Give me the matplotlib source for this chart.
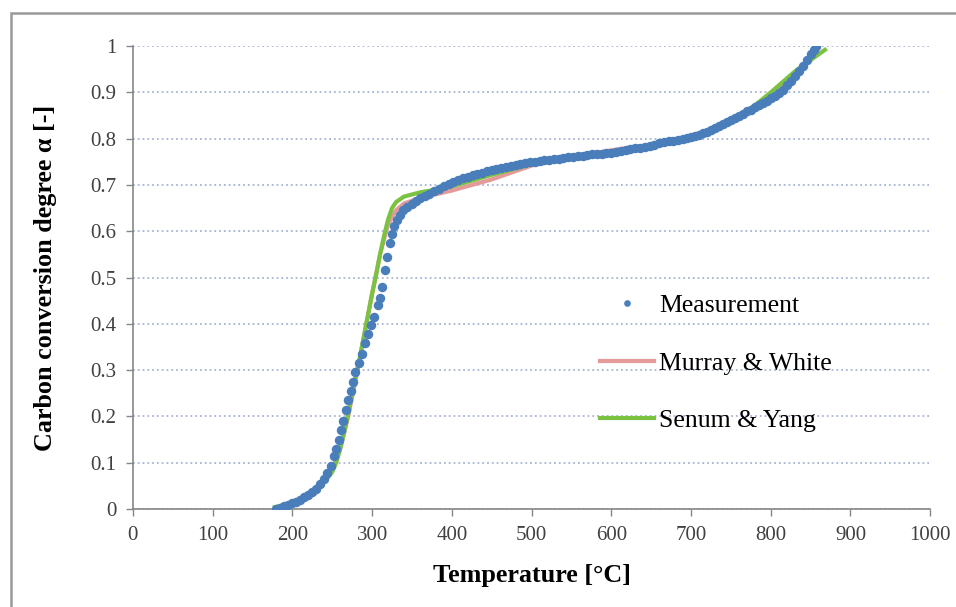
import matplotlib.pyplot as plt
from matplotlib.patches import Rectangle

# measured carbon conversion (temperature in degC, conversion degree)
T_meas = [180, 185, 190, 195, 200, 205, 210, 215, 220, 225, 230, 235, 240, 244, 248,
          252, 255, 258, 261, 264, 267, 270, 273, 276, 279, 283, 287, 291, 295, 299,
          303, 307, 310, 313, 316, 319, 322, 325, 328, 331, 335, 339, 344, 350, 355,
          360, 366, 372, 378, 384, 390, 396, 402, 408, 414, 420, 426, 432, 438, 444,
          450, 456, 462, 468, 474, 480, 486, 492, 498, 504, 510, 516, 522, 528, 534,
          540, 546, 552, 558, 564, 570, 576, 582, 588, 594, 600, 606, 612, 618, 624,
          630, 636, 642, 648, 654, 660, 666, 672, 678, 684, 690, 695, 700, 705, 710,
          715, 720, 725, 730, 735, 740, 745, 750, 755, 760, 765, 770, 775, 780, 785,
          790, 795, 800, 805, 810, 815, 820, 825, 830, 835, 840, 845, 850, 854, 857]
a_meas = [0.000, 0.003, 0.006, 0.009, 0.012, 0.016, 0.020, 0.025, 0.030, 0.036, 0.043, 0.053, 0.065, 0.078, 0.093,
          0.115, 0.130, 0.150, 0.170, 0.190, 0.215, 0.235, 0.255, 0.275, 0.296, 0.315, 0.335, 0.358, 0.378, 0.397,
          0.415, 0.440, 0.455, 0.480, 0.516, 0.545, 0.574, 0.595, 0.612, 0.625, 0.635, 0.645, 0.653, 0.660, 0.666,
          0.671, 0.676, 0.681, 0.686, 0.691, 0.697, 0.702, 0.707, 0.711, 0.715, 0.718, 0.721, 0.724, 0.727, 0.730,
          0.732, 0.735, 0.737, 0.739, 0.741, 0.743, 0.745, 0.747, 0.749, 0.750, 0.752, 0.753, 0.755, 0.756, 0.757,
          0.758, 0.760, 0.761, 0.762, 0.763, 0.764, 0.766, 0.767, 0.768, 0.769, 0.770, 0.772, 0.773, 0.775, 0.777,
          0.779, 0.781, 0.783, 0.785, 0.787, 0.790, 0.792, 0.794, 0.796, 0.798, 0.799, 0.801, 0.803, 0.806, 0.809,
          0.812, 0.815, 0.819, 0.823, 0.827, 0.832, 0.836, 0.840, 0.844, 0.849, 0.854, 0.859, 0.863, 0.868, 0.872,
          0.877, 0.882, 0.887, 0.892, 0.898, 0.906, 0.915, 0.925, 0.935, 0.946, 0.958, 0.970, 0.982, 0.992, 1.000]

# Murray & White model
T_mw = [180, 200, 220, 240, 250, 260, 270, 280, 290, 300, 310, 320, 330, 340, 360,
        380, 400, 450, 500, 550, 600, 650, 700, 750, 800, 850, 860]
a_mw = [0.002, 0.012, 0.028, 0.060, 0.085, 0.130, 0.200, 0.285, 0.375, 0.465, 0.550, 0.615, 0.645, 0.660, 0.672,
        0.680, 0.688, 0.712, 0.742, 0.760, 0.775, 0.787, 0.800, 0.835, 0.890, 0.975, 0.995]

# Senum & Yang model
T_sy = [178, 200, 220, 240, 250, 255, 260, 265, 270, 275, 280, 285, 290, 295, 300,
        305, 310, 315, 320, 325, 330, 340, 360, 380, 400, 450, 500, 550, 600, 650,
        700, 750, 780, 800, 830, 850, 868]
a_sy = [0.004, 0.013, 0.028, 0.058, 0.080, 0.100, 0.130, 0.165, 0.205, 0.250, 0.290, 0.330, 0.375, 0.420, 0.465,
        0.505, 0.550, 0.590, 0.625, 0.650, 0.663, 0.675, 0.684, 0.690, 0.697, 0.722, 0.745, 0.760, 0.772, 0.785,
        0.800, 0.838, 0.872, 0.900, 0.945, 0.970, 0.992]

x_ticks = list(range(0, 1001, 100))
y_ticks = [0, 0.1, 0.2, 0.3, 0.4, 0.5, 0.6, 0.7, 0.8, 0.9, 1]
y_tick_labels = ['0', '0.1', '0.2', '0.3', '0.4', '0.5', '0.6', '0.7', '0.8', '0.9', '1']

plt.rcParams['font.family'] = ['Liberation Serif', 'DejaVu Serif']

fig = plt.figure(figsize=(9.56, 6.07), dpi=100)
ax = fig.add_axes([0.139, 0.1614, 0.834, 0.7626])

# outer frame of the chart area
fig.add_artist(Rectangle((10.5 / 956, -0.2), 1.2, 1.2 - 12.5 / 607,
                         transform=fig.transFigure, fill=False,
                         edgecolor='#9a9a9a', linewidth=1.8, clip_on=False))

ax.plot(T_mw, a_mw, color='#e39a98', linewidth=3, label='Murray & White', zorder=2)
ax.plot(T_sy, a_sy, color='#7cc242', linewidth=3, label='Senum & Yang', zorder=3)
ax.plot(T_meas, a_meas, linestyle='none', marker='o', markersize=5.8,
        color='#4a7ebb', label='Measurement', zorder=4)

ax.set_xlim(0, 1000)
ax.set_ylim(0, 1)
ax.set_xticks(x_ticks)
ax.set_yticks(y_ticks)
ax.set_yticklabels(y_tick_labels)
ax.tick_params(direction='out', length=5, width=1, color='#868686',
               labelsize=15, labelcolor='#404040', pad=7)

ax.grid(axis='y', linestyle=':', linewidth=1.3, color='#a9b4d2')
ax.set_axisbelow(True)
for side in ['top', 'right']:
    ax.spines[side].set_visible(False)
for side in ['left', 'bottom']:
    ax.spines[side].set_color('#868686')
    ax.spines[side].set_linewidth(1.2)

ax.set_xlabel('Temperature [°C]', fontsize=18.8, fontweight='bold', labelpad=14)
ax.set_ylabel('Carbon conversion degree α [-]', fontsize=18.8, fontweight='bold', labelpad=24)

handles, labels = ax.get_legend_handles_labels()
order = [2, 0, 1]
ax.legend([handles[i] for i in order], [labels[i] for i in order],
          loc='center left', bbox_to_anchor=(0.586, 0.315), frameon=False,
          fontsize=18.5, handlelength=2.1, handletextpad=0.2, labelspacing=1.35,
          borderpad=0, borderaxespad=0, markerscale=0.65)

plt.savefig('out.png', dpi=100)
